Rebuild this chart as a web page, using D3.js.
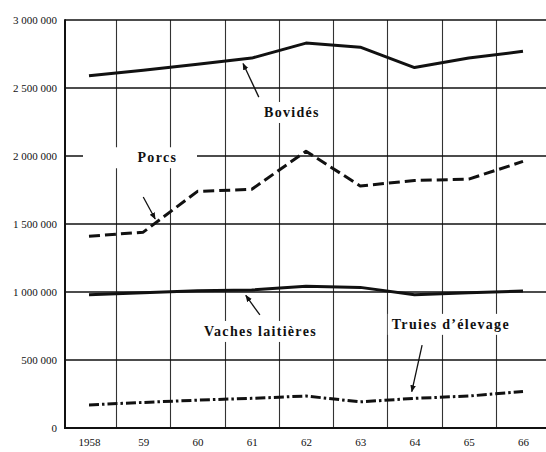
<!DOCTYPE html>
<html>
<head>
<meta charset="utf-8">
<script src="https://cdn.jsdelivr.net/npm/d3@7"></script>
<style>
  body { margin: 0; background: #fff; }
  svg { display: block; }
  .tick text { font-family: "Liberation Serif", "DejaVu Serif", serif; font-size: 11px; fill: #111; }
  .lbl { font-family: "Liberation Serif", "DejaVu Serif", serif; font-size: 14px; font-weight: bold; fill: #111; letter-spacing: 1.3px; }
</style>
</head>
<body>
<svg id="chart" width="546" height="452"></svg>
<script>
// years on the x axis
const years = ['1958', '59', '60', '61', '62', '63', '64', '65', '66'];
const yTicks = [0, 500000, 1000000, 1500000, 2000000, 2500000, 3000000];

// series values (head count)
const bovides = [2590000, 2630000, 2675000, 2720000, 2830000, 2800000, 2650000, 2720000, 2770000];
const porcs = [1410000, 1440000, 1740000, 1755000, 2035000, 1780000, 1820000, 1830000, 1960000];
const vaches = [980000, 995000, 1010000, 1015000, 1042000, 1034000, 980000, 995000, 1007000];
const truies = [170000, 188000, 205000, 218000, 235000, 192000, 218000, 235000, 268000];

const series = [
    {key: 'bovides', values: bovides, dash: null, width: 3},
    {key: 'porcs', values: porcs, dash: '11,5', width: 3},
    {key: 'vaches', values: vaches, dash: null, width: 3},
    {key: 'truies', values: truies, dash: '10,3,2.5,3', width: 3}
];

// annotation labels and arrows, in data units (year index, value)
const labels = [
    {text: 'Bovidés', x: 3.74, y: 2323000},
    {text: 'Porcs', x: 1.26, y: 1990000, gap: [83, 197]},
    {text: 'Vaches laitières', x: 3.16, y: 713000},
    {text: 'Truies d\u2019élevage', x: 6.67, y: 765000}
];
const arrows = [
    {from: [3.13, 2433000], to: [2.84, 2680000]},
    {from: [1.00, 1699000], to: [1.22, 1537000]},
    {from: [3.15, 831000], to: [2.89, 975000]},
    {from: [6.14, 610000], to: [5.95, 268000]}
];

const W = 546;
const margin = {left: 65, top: 20, bottom: 428};

const svg = d3.select('#chart');
const xScale = d3.scaleLinear().domain([0, years.length - 1]).range([89, 523]);
const yScale = d3.scaleLinear().domain([0, 3000000]).range([margin.bottom, margin.top]);
const fmt = d3.formatLocale({decimal: ',', thousands: ' ', grouping: [3], currency: ['', '']}).format(',');

svg.append('defs').append('marker')
    .attr('id', 'head')
    .attr('viewBox', '0 0 10 10')
    .attr('refX', 9).attr('refY', 5)
    .attr('markerWidth', 7).attr('markerHeight', 7)
    .attr('markerUnits', 'userSpaceOnUse')
    .attr('orient', 'auto')
    .append('path')
        .attr('d', 'M0,1 L10,5 L0,9 Z')
        .attr('fill', '#111');

// vertical grid between years
const grid = svg.append('g');
grid.selectAll('line.v')
    .data(d3.range(1, years.length))
    .enter().append('line')
        .attr('class', 'v')
        .attr('x1', d => Math.round(xScale(d - 0.5)) + 0.5)
        .attr('x2', d => Math.round(xScale(d - 0.5)) + 0.5)
        .attr('y1', margin.top)
        .attr('y2', margin.bottom)
        .attr('stroke', '#333')
        .attr('stroke-width', 1.1);

// horizontal grid
grid.selectAll('line.h')
    .data(yTicks)
    .enter().append('line')
        .attr('class', 'h')
        .attr('x1', margin.left)
        .attr('x2', W)
        .attr('y1', d => yScale(d))
        .attr('y2', d => yScale(d))
        .attr('stroke', '#111')
        .attr('stroke-width', d => d == 0 ? 2 : 1.6);

grid.append('line')
    .attr('x1', margin.left).attr('x2', margin.left)
    .attr('y1', margin.top - 0.8).attr('y2', margin.bottom + 1)
    .attr('stroke', '#111')
    .attr('stroke-width', 2);

// white boxes behind labels (breaks the grid as in the print)
const labelG = svg.append('g');

const lines = svg.append('g');
const valueline = d3.line()
    .x((d, i) => xScale(i))
    .y(d => yScale(d));

lines.selectAll('path')
    .data(series)
    .enter().append('path')
        .attr('d', d => valueline(d.values))
        .attr('fill', 'none')
        .attr('stroke', '#111')
        .attr('stroke-width', d => d.width)
        .attr('stroke-dasharray', d => d.dash)
        .attr('stroke-linejoin', 'round');

// y axis labels
svg.append('g')
    .attr('transform', `translate(${margin.left},0)`)
    .call(d3.axisLeft(yScale).tickValues(yTicks).tickSize(0).tickPadding(8).tickFormat(fmt))
    .call(g => g.select('.domain').remove());

// x axis labels
svg.append('g')
    .attr('transform', `translate(0,${margin.bottom})`)
    .call(d3.axisBottom(xScale).tickValues(d3.range(years.length)).tickSize(0).tickPadding(10).tickFormat(i => years[i]))
    .call(g => g.select('.domain').remove());

labels.forEach(l => {
    const t = labelG.append('text')
        .attr('class', 'lbl')
        .attr('x', xScale(l.x))
        .attr('y', yScale(l.y))
        .attr('dy', '0.35em')
        .attr('text-anchor', 'middle')
        .text(l.text);
    const b = t.node().getBBox();
    const x0 = l.gap ? l.gap[0] : b.x - 4;
    const x1 = l.gap ? l.gap[1] : b.x + b.width + 4;
    labelG.insert('rect', 'text')
        .attr('x', x0)
        .attr('y', b.y - 3)
        .attr('width', x1 - x0)
        .attr('height', b.height + 6)
        .attr('fill', '#fff');
});

svg.append('g').selectAll('line')
    .data(arrows)
    .enter().append('line')
        .attr('x1', d => xScale(d.from[0]))
        .attr('y1', d => yScale(d.from[1]))
        .attr('x2', d => xScale(d.to[0]))
        .attr('y2', d => yScale(d.to[1]))
        .attr('stroke', '#111')
        .attr('stroke-width', 1.3)
        .attr('marker-end', 'url(#head)');
</script>
</body>
</html>
